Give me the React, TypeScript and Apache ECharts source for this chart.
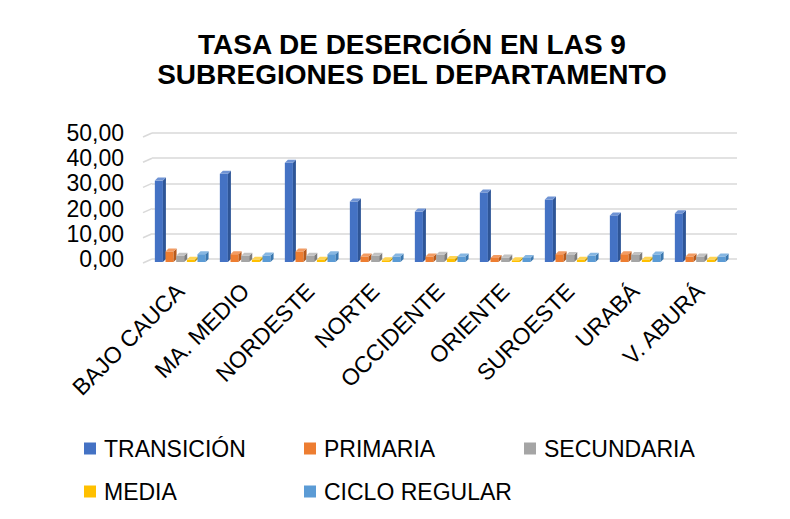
import React, { useEffect, useRef } from "react";
import * as echarts from "echarts";

const categories = ["BAJO CAUCA", "MA. MEDIO", "NORDESTE", "NORTE", "OCCIDENTE", "ORIENTE", "SUROESTE", "URABÁ", "V. ABURÁ"];
const seriesNames = ["TRANSICIÓN", "PRIMARIA", "SECUNDARIA", "MEDIA", "CICLO REGULAR"];
const transicion = [32.3, 35.0, 39.4, 24.0, 20.0, 27.6, 24.8, 18.5, 19.3];
const primaria = [4.2, 3.1, 4.2, 2.2, 2.2, 1.6, 3.1, 3.1, 2.2];
const secundaria = [2.5, 2.5, 2.5, 2.5, 2.9, 1.8, 2.8, 2.8, 2.2];
const media = [0.9, 0.9, 0.9, 0.7, 1.2, 0.7, 0.9, 0.9, 0.9];
const cicloRegular = [3.1, 2.6, 3.1, 2.2, 2.2, 1.6, 2.5, 3.0, 2.2];
const yTicks = [0, 10, 20, 30, 40, 50];

const colors = ["#4472C4", "#ED7D31", "#A5A5A5", "#FFC000", "#5B9BD5"];
const sideColors = ["#2E5597", "#B85A1C", "#7C7C7C", "#C79600", "#3A78B0"];
const topColors = ["#6F93D4", "#F29B62", "#C2C2C2", "#FFD451", "#85B6E2"];

const FONT = "Arial, 'Liberation Sans', sans-serif";

export default function App() {
  const ref = useRef<HTMLDivElement>(null);
  useEffect(() => {
    if (!ref.current) return;
    const chart = echarts.init(ref.current, null, { renderer: "svg" });
    const allValues = [transicion, primaria, secundaria, media, cicloRegular];

    const barSeries = allValues.map((vals, k) => ({
      type: "custom",
      name: seriesNames[k],
      color: colors[k],
      encode: { x: 0, y: 1 },
      data: vals.map((v, i) => [i, v]),
      z: 2,
      renderItem: (params: any, api: any) => {
        const i = api.value(0);
        const v = api.value(1);
        const base = api.coord([i, 0]);
        const top = api.coord([i, v]);
        const band = api.size([1, 0])[0];
        const groupW = band * 0.82;
        const slot = groupW / 5;
        const dx = 3;
        const dy = 3;
        const w = slot - dx + 0.4;
        const x0 = base[0] - groupW / 2 + k * slot - 3;
        const yb = base[1] + 3;
        const yt = top[1] + 3;
        return {
          type: "group",
          children: [
            { type: "rect", shape: { x: x0, y: yt, width: w, height: yb - yt }, style: { fill: colors[k] } },
            {
              type: "polygon",
              shape: { points: [[x0 + w, yt], [x0 + w + dx, yt - dy], [x0 + w + dx, yb - dy], [x0 + w, yb]] },
              style: { fill: sideColors[k] },
            },
            {
              type: "polygon",
              shape: { points: [[x0, yt], [x0 + dx, yt - dy], [x0 + w + dx, yt - dy], [x0 + w, yt]] },
              style: { fill: topColors[k] },
            },
          ],
        };
      },
    }));

    const wallSeries = {
      type: "custom",
      name: "wall",
      silent: true,
      encode: { x: 0, y: 1 },
      data: yTicks.map((t) => [0, t]),
      z: 1,
      renderItem: (params: any, api: any) => {
        const p = api.coord([0, api.value(1)]);
        const left = params.coordSys.x;
        return {
          type: "line",
          shape: { x1: left - 9, y1: p[1] + 4, x2: left, y2: p[1] },
          style: { stroke: "#D9D9D9", lineWidth: 1.5 },
        };
      },
    };

    const legendPos = [
      [79, 432],
      [299, 432],
      [519, 432],
      [79, 475],
      [299, 475],
    ];
    const legends = seriesNames.map((n, k) => ({
      data: [n],
      left: legendPos[k][0],
      top: legendPos[k][1],
      itemWidth: 12,
      itemHeight: 12,
      icon: "rect",
      textStyle: { fontSize: 23, color: "#000", fontFamily: FONT, padding: [0, 0, 0, 3] },
    }));

    chart.setOption({
      animation: false,
      backgroundColor: "#fff",
      title: {
        text: "TASA DE DESERCIÓN EN LAS 9\nSUBREGIONES DEL DEPARTAMENTO",
        left: 407,
        top: 24,
        textAlign: "center",
        textStyle: { fontSize: 28, fontWeight: "bold", color: "#000", fontFamily: FONT, lineHeight: 30 },
      },
      legend: legends,
      grid: { left: 152, right: 53, top: 133, bottom: 260 },
      xAxis: {
        type: "category",
        data: categories,
        axisLine: { show: false },
        axisTick: { show: false },
        axisLabel: {
          rotate: 45,
          interval: 0,
          fontSize: 23,
          color: "#000",
          fontFamily: FONT,
          margin: 24,
          padding: [0, 6, 11, 0],
        },
      },
      yAxis: {
        type: "value",
        min: 0,
        max: 50,
        interval: 10,
        axisLine: { show: false },
        axisTick: { show: false },
        splitLine: { lineStyle: { color: "#D9D9D9", width: 1.5 } },
        axisLabel: {
          fontSize: 23,
          color: "#000",
          fontFamily: FONT,
          margin: 28,
          formatter: (v: number) => v.toFixed(2).replace(".", ","),
        },
      },
      series: [wallSeries, ...barSeries],
    });
    return () => chart.dispose();
  }, []);
  return <div ref={ref} style={{ position: "fixed", left: 0, top: 0, width: 790, height: 519 }} />;
}
